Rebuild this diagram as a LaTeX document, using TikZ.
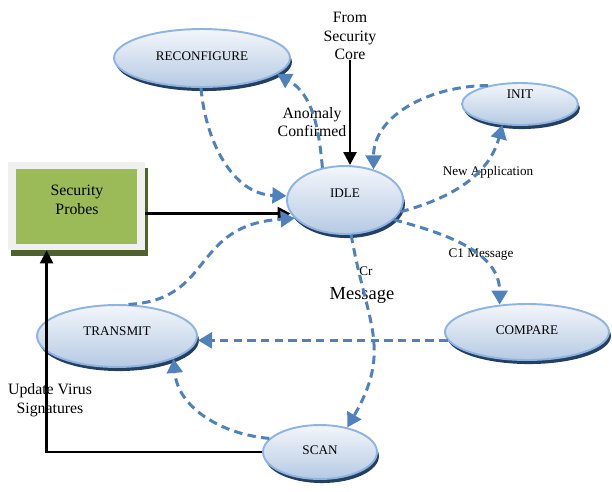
\documentclass[tikz,border=0pt]{standalone}
\usepackage{fontspec}
\setmainfont{Liberation Serif}
\usepackage{tikz}
\usetikzlibrary{arrows.meta, positioning, shapes.geometric, shadows}
\definecolor{stEdge}{HTML}{8EB4E3}
\definecolor{stTop}{HTML}{F3F6FB}
\definecolor{stBottom}{HTML}{B6CAE3}
\definecolor{stShade}{HTML}{243F60}
\definecolor{flowBlue}{HTML}{4F81BD}
\definecolor{probeGreen}{HTML}{9BBB59}
\definecolor{probeFrame}{HTML}{F0F0F0}
\definecolor{probeShade}{HTML}{4F6228}

\begin{document}
\begin{tikzpicture}[x=0.02cm, y=-0.02cm,
  state/.style={ellipse, draw=stEdge, line width=1.1pt, top color=stTop, bottom color=stBottom, inner sep=0pt, font=\fontsize{7.5}{9}\selectfont, text height=5pt, text depth=2pt, drop shadow={shadow xshift=1.1pt, shadow yshift=-2.3pt, fill=stShade, opacity=1}},
  lift/.style={text depth=#1},
  flow/.style={draw=flowBlue, line width=1.7pt, dash pattern=on 4.8pt off 3pt, -{Triangle[length=8pt, width=9pt]}},
  feed/.style={draw=black, line width=1.4pt, -{Triangle[length=7.4pt, width=7.4pt]}},
  note/.style={font=\fontsize{9}{10.5}\selectfont, align=center, inner sep=0pt},
  tag/.style={font=\fontsize{7.5}{9}\selectfont, align=center, inner sep=0pt},
]
  \useasboundingbox (0,0) rectangle (612,491);

  \node[state, minimum width=3.52cm, minimum height=1.16cm] (reconf) at (202,58) {RECONFIGURE};
  \node[state, lift=11pt, minimum width=2.32cm, minimum height=0.84cm] (init) at (520,104) {INIT};
  \node[state, lift=8pt, minimum width=2.32cm, minimum height=1.36cm] (idle) at (345,200) {IDLE};
  \node[state, minimum width=3.28cm, minimum height=1.12cm] (compare) at (527,332) {COMPARE};
  \node[state, lift=6pt, minimum width=3.2cm, minimum height=1.24cm] (transmit) at (117,336) {TRANSMIT};
  \node[state, minimum width=2.28cm, minimum height=1.08cm] (scan) at (320,452) {SCAN};

  \node[fill=probeFrame, minimum width=2.74cm, minimum height=1.76cm, drop shadow={shadow xshift=1.7pt, shadow yshift=-3.6pt, fill=probeShade, opacity=1}] (probes) at (76.5,206) {};
  \node[fill=probeGreen, minimum width=2.42cm, minimum height=1.5cm] (probesin) at (76.5,206.5) {};
  \node[note] (probetext) at (77,200) {Security\\Probes};

  \node[note] (core) at (350,36) {From\\Security\\Core};
  \node[note] (anomaly) at (312,122) {Anomaly\\Confirmed};
  \node[tag] (newapp) at (488,172) {New Application};
  \node[tag] (c1msg) at (481,255) {C1 Message};
  \node[tag] (cr) at (366,271) {Cr};
  \node[font=\fontsize{10.5}{12}\selectfont, inner sep=0pt] (crmsg) at (362,295) {Message};
  \node[note] (update) at (50,400) {Update Virus\\Signatures};

  \draw[feed] (core.south) -- (core.south |- idle.north);
  \draw[feed] (probes.east |- idle.194) -- (idle.194);
  \draw[feed] (scan.west) -- (scan.west -| probes.236) -- (probes.236);

  \draw[flow] (reconf.268) to[out=-85, in=178] (idle.176);
  \draw[flow] (idle.125) to[out=95, in=-30] (reconf.-12);
  \draw[flow] (init.150) to[out=180, in=90] (idle.47);
  \draw[flow] (idle.-12) to[out=15, in=-105] (init.230);
  \draw[flow] (idle.-22) to[out=-15, in=90] (compare.135);
  \draw[flow] (compare.186) -- (compare.186 -| transmit.east);
  \draw[flow] (idle.-80) to[out=-80, in=60, looseness=1.2] (scan.42);
  \draw[flow] (scan.165) to[out=175, in=-85] (transmit.-22);
  \draw[flow] (transmit.70) .. controls (215,300) and (190,225) .. (idle.200);
\end{tikzpicture}
\end{document}
